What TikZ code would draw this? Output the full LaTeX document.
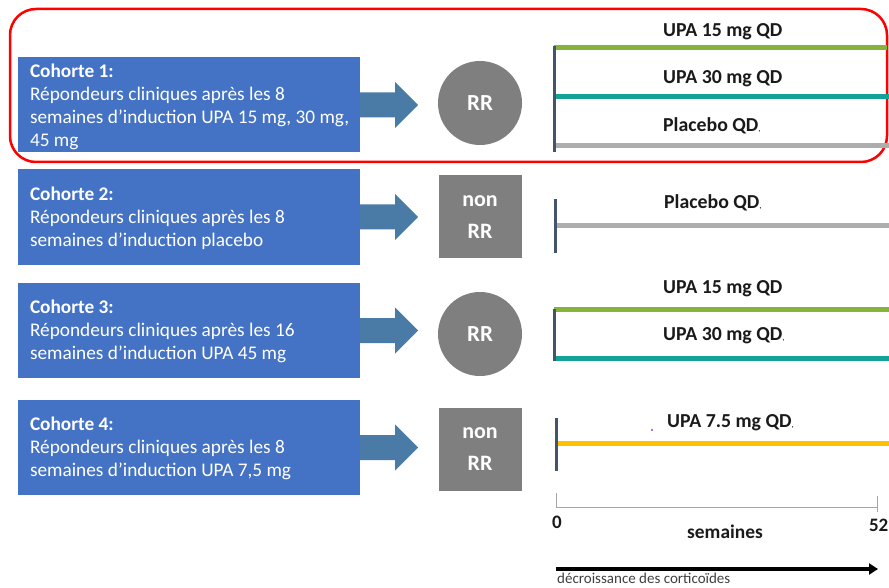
\documentclass[tikz,border=0pt]{standalone}
\usepackage{fontspec}
\setmainfont{Carlito}
\usetikzlibrary{calc,arrows.meta}
\definecolor{boxblue}{HTML}{4472C4}
\definecolor{arrowblue}{HTML}{4A7BA7}
\definecolor{rrgray}{HTML}{7F7F7F}
\definecolor{barcol}{HTML}{44546A}
\definecolor{armgreen}{HTML}{86B33C}
\definecolor{armteal}{HTML}{14A196}
\definecolor{armgray}{HTML}{ADADAD}
\definecolor{armyellow}{HTML}{FFC000}
\definecolor{labcol}{HTML}{1A1A1A}
\definecolor{framered}{HTML}{FF0000}
\definecolor{axiscol}{HTML}{A6A6A6}
\definecolor{notecol}{HTML}{404040}
\begin{document}
\begin{tikzpicture}[x=1pt,y=-1pt,
  cohort/.style={fill=boxblue, minimum width=342pt, minimum height=95pt, inner sep=0pt},
  cohorttext/.style={anchor=west, text=white, inner sep=0pt, align=left,
    font=\fontsize{19.3}{23}\selectfont},
  rrcircle/.style={circle, fill=rrgray, text=white, minimum size=84pt, inner sep=0pt,
    font=\bfseries\fontsize{23}{26}\selectfont},
  rrsquare/.style={fill=rrgray, text=white, minimum size=83pt, inner sep=0pt, align=center,
    font=\bfseries\fontsize{22}{32}\selectfont},
  lab/.style={anchor=base west, inner sep=0pt, text=labcol, font=\bfseries\fontsize{19.8}{22}\selectfont},
  bar/.style={draw=barcol, line width=3pt},
  arm/.style={line width=5pt},
  axisline/.style={draw=axiscol, line width=1pt},
]
\useasboundingbox (0,0) rectangle (889,588);

% red frame
\draw[framered, line width=2.5pt, rounded corners=26pt] (10,9) rectangle (887,162);

% cohort boxes
\node[cohort] (c1) at (189,105) {};
\node[cohort] (c2) at (189,217) {};
\node[cohort] (c3) at (189,330.5) {};
\node[cohort] (c4) at (189,447.5) {};
\node[cohorttext] (c1t) at ($(c1.west)+(12,1.5)$) {\textbf{Cohorte 1:}\\Répondeurs cliniques après les 8\\semaines d’induction UPA 15 mg, 30 mg,\\45 mg};
\node[cohorttext] (c2t) at ($(c2.west)+(12,1)$) {\textbf{Cohorte 2:}\\Répondeurs cliniques après les 8\\semaines d’induction placebo};
\node[cohorttext] (c3t) at ($(c3.west)+(12,1)$) {\textbf{Cohorte 3:}\\Répondeurs cliniques après les 16\\semaines d’induction UPA 45 mg};
\node[cohorttext] (c4t) at ($(c4.west)+(12,1)$) {\textbf{Cohorte 4:}\\Répondeurs cliniques après les 8\\semaines d’induction UPA 7,5 mg};

% RR nodes
\node[rrcircle] (rr1) at (480,103) {RR};
\node[rrsquare] (rr2) at (480,217) {non\\RR};
\node[rrcircle] (rr3) at (480,334) {RR};
\node[rrsquare] (rr4) at (480,449) {non\\RR};

% fat arrows
\foreach \c in {c1,c2,c3,c4} {
  \fill[arrowblue] ($(\c.east)+(0,-12.5)$) -- ++(35,0) -- ++(0,-10.5)
    -- ($(\c.east)+(58,0)$) -- ($(\c.east)+(35,23)$) -- ++(0,-10.5)
    -- ($(\c.east)+(0,12.5)$) -- cycle;
}

% cohort 1 arms
\draw[arm, armgreen] (554,48) -- (887,48);
\draw[arm, armteal] (554,97) -- (889,97);
\draw[arm, armgray] (554,146) -- (889,146);
\draw[bar] (554,46) -- (554,152);
\node[lab] (l11) at (663,37) {UPA 15 mg QD};
\node[lab] (l12) at (663,84) {UPA 30 mg QD};
\node[lab] (l13) at (663,132) {Placebo QD{\fontsize{9}{9}\selectfont\mdseries,}};

% cohort 2 arm
\draw[arm, armgray] (555,226) -- (889,226);
\draw[bar] (555,199) -- (555,253);
\node[lab] (l21) at (664,209) {Placebo QD{\fontsize{9}{9}\selectfont\mdseries,}};

% cohort 3 arms
\draw[arm, armgreen] (554,309) -- (889,309);
\draw[arm, armteal] (554,358) -- (889,358);
\draw[bar] (554,309) -- (554,361);
\node[lab] (l31) at (663,293) {UPA 15 mg QD};
\node[lab] (l32) at (663,340) {UPA 30 mg QD{\fontsize{9}{9}\selectfont\mdseries,}};

% cohort 4 arm
\draw[arm, armyellow] (556,443) -- (889,443);
\draw[bar] (556,418) -- (556,471);
\node[lab] (l41) at (667,427) {UPA 7.5 mg QD{\fontsize{9}{9}\selectfont\mdseries,}};
\fill[blue] (652,430) circle (0.8pt);

% time axis
\coordinate (a0) at (556,507);
\coordinate (a52) at (877,507);
\draw[axisline] (a0) -- (a52);
\draw[axisline] (556,493) -- (a0);
\draw[axisline] (877,496) -- (877,512);
\node[lab, anchor=base, font=\bfseries\fontsize{19}{22}\selectfont] (t0) at (557,528) {0};
\node[lab, anchor=base east, font=\bfseries\fontsize{19}{22}\selectfont] (t52) at (888.5,531) {52};
\node[lab, anchor=base, font=\bfseries\fontsize{19.4}{22}\selectfont] (sem) at (725,538) {semaines};

% corticoid arrow
\coordinate (d0) at (556,569);
\coordinate (d1) at (878,569);
\draw[line width=4pt, -{Triangle[length=9pt,width=11pt]}] (d0) -- (d1);
\node[anchor=base west, inner sep=0pt, text=notecol, font=\fontsize{15}{18}\selectfont] (note) at (557,583) {décroissance des corticoïdes};
\end{tikzpicture}
\end{document}
